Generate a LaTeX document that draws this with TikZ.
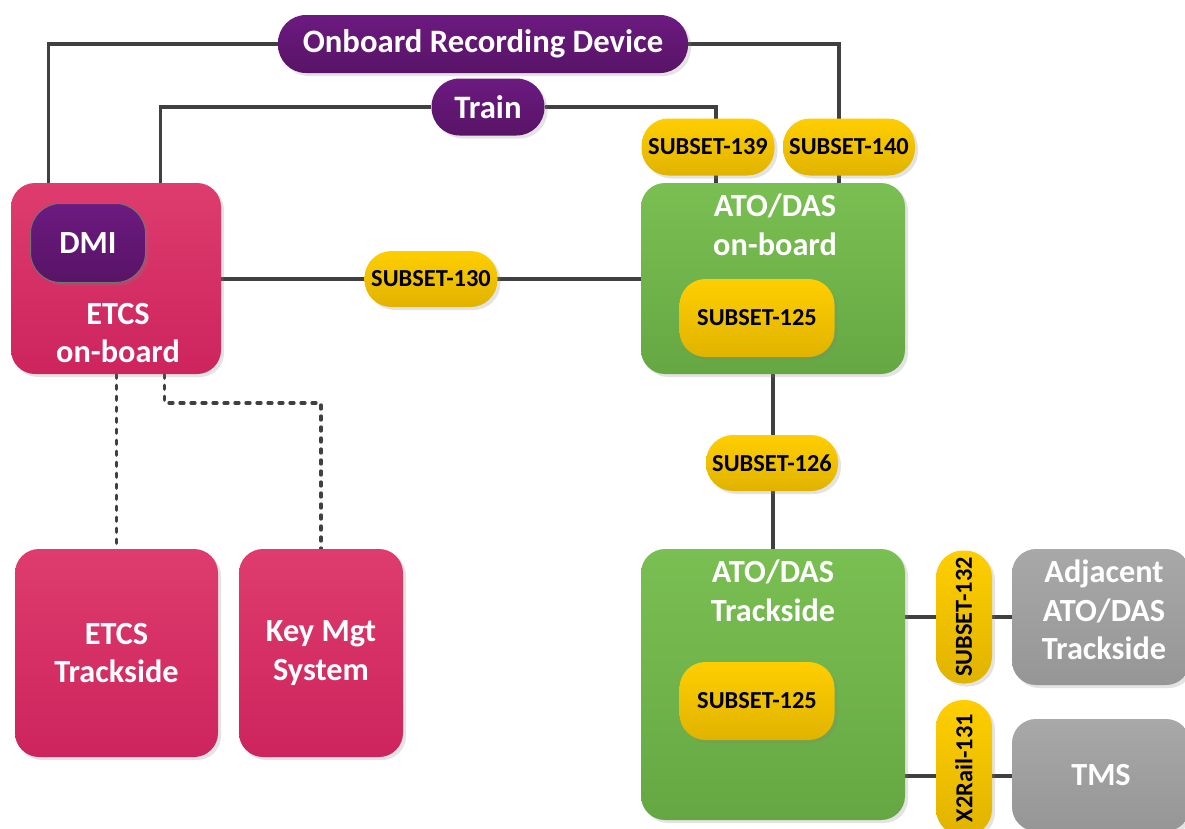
\documentclass[tikz,border=0pt]{standalone}
\usepackage{fontspec}
\setmainfont{Carlito}
\usetikzlibrary{shadows,backgrounds,calc}
\definecolor{purpT}{HTML}{6C1A80}
\definecolor{purpB}{HTML}{581466}
\definecolor{pinkT}{HTML}{DE3C6E}
\definecolor{pinkB}{HTML}{CD245E}
\definecolor{grnT}{HTML}{7ABF52}
\definecolor{grnB}{HTML}{65A843}
\definecolor{ylwT}{HTML}{FFCE00}
\definecolor{ylwB}{HTML}{E0B300}
\definecolor{gryT}{HTML}{A8A8A8}
\definecolor{gryB}{HTML}{969696}
\definecolor{lineC}{HTML}{404040}
\tikzset{
  base/.style={inner sep=0pt, align=center,
    drop shadow={opacity=0.22, shadow xshift=3pt, shadow yshift=-3pt}},
  bigtxt/.style={text=white, font=\bfseries\fontsize{32.3}{38.5}\selectfont},
  smalltxt/.style={text=black, font=\bfseries\fontsize{24.4}{28}\selectfont},
  pinkbox/.style={base, bigtxt, rounded corners=24pt, top color=pinkT, bottom color=pinkB},
  greenbox/.style={base, rounded corners=24pt, top color=grnT, bottom color=grnB},
  graybox/.style={base, bigtxt, rounded corners=24pt, top color=gryT, bottom color=gryB},
  purppill/.style={base, bigtxt, top color=purpT, bottom color=purpB},
  ylwpill/.style={base, smalltxt, rounded corners=27pt, top color=ylwT, bottom color=ylwB},
  inner125/.style={base, smalltxt, rounded corners=26pt, top color=ylwT, bottom color=ylwB,
    minimum width=155pt, minimum height=78pt},
  lbl/.style={bigtxt, align=center, inner sep=0pt},
  conn/.style={draw=lineC, line width=3.3pt},
  dconn/.style={draw=lineC, line width=3.3pt, line cap=round, dash pattern=on 4pt off 7pt},
}
\begin{document}
\begin{tikzpicture}[x=1pt,y=-1pt]
\useasboundingbox (0,0) rectangle (1185,828);
\begin{pgfonlayer}{background}
\fill[white] (0,0) rectangle (1185,828);
\end{pgfonlayer}

% purple pills
\node[purppill, rounded corners=28pt, minimum width=410pt, minimum height=58pt,
  font=\bfseries\fontsize{32.7}{38}\selectfont] (ord) at (483,44) {Onboard Recording Device};
\node[purppill, rounded corners=28pt, minimum width=113pt, minimum height=57pt,
  font=\bfseries\fontsize{32.7}{38}\selectfont] (train) at (488,107) {Train};

% ETCS on-board
\node[pinkbox, minimum width=210pt, minimum height=191pt] (etcsob) at (116,278.5) {};
\node[base, bigtxt, rounded corners=30pt, top color=purpT, bottom color=purpB,
  draw=black!55, line width=1pt, minimum width=115pt, minimum height=79pt] (dmi) at (88,243) {DMI};
\node[lbl] (etcsobT) at (118,333) {ETCS\\on-board};

% ATO/DAS on-board
\node[greenbox, minimum width=264pt, minimum height=191pt] (atoob) at (773,278.5) {};
\node[lbl] (atoobT) at (775,225) {ATO/DAS\\on-board};
\node[inner125] (s125a) at (757,318) {SUBSET-125};

% subsets top
\node[ylwpill, minimum width=133pt, minimum height=57pt] (s139) at (708,147) {SUBSET-139};
\node[ylwpill, minimum width=132pt, minimum height=57pt] (s140) at (849,147) {SUBSET-140};
\node[ylwpill, minimum width=133pt, minimum height=56pt] (s130) at (431,279) {SUBSET-130};
\node[ylwpill, minimum width=132pt, minimum height=56pt] (s126) at (772,463) {SUBSET-126};

% ATO/DAS trackside
\node[greenbox, minimum width=264pt, minimum height=271pt] (atots) at (773,684.5) {};
\node[lbl] (atotsT) at (773,591) {ATO/DAS\\Trackside};
\node[inner125] (s125b) at (757,701) {SUBSET-125};

% vertical pills
\node[ylwpill, rotate=90, minimum width=133pt, minimum height=56pt] (s132) at (964,617) {SUBSET-132};
\node[ylwpill, rotate=90, minimum width=136pt, minimum height=56pt] (x2r) at (964,768) {X2Rail-131};

% gray boxes
\node[graybox, minimum width=178pt, minimum height=136pt] (adj) at (1101,617) {};
\node[lbl] (adjT) at (1104,610) {Adjacent\\ATO/DAS\\Trackside};
\node[graybox, minimum width=178pt, minimum height=112pt] (tms) at (1101,775) {TMS};

% pink bottom boxes
\node[pinkbox, minimum width=203pt, minimum height=208pt] (etcsts) at (116.5,653) {ETCS\\Trackside};
\node[pinkbox, minimum width=164pt, minimum height=208pt] (kms) at (321,653) {Key Mgt\\System};

\coordinate (x2line) at (964,776);
\coordinate (kbend) at (0,403);

\begin{pgfonlayer}{background}
\draw[conn] (ord.west) -| ([xshift=38pt]etcsob.north west);
\draw[conn] (ord.east) -| ([xshift=-10pt]s140.center |- atoob.north);
\draw[conn] (train.west) -| ([xshift=150pt]etcsob.north west);
\draw[conn] (train.east) -| ([xshift=8pt]s139.center |- atoob.north);
\draw[conn] (etcsob.east |- s130) -- (atoob.west |- s130);
\draw[conn] (atoob.south) -- (atots.north);
\draw[conn] (atots.east |- s132) -- (adj.west |- s132);
\draw[conn] (atots.east |- x2line) -- (tms.west |- x2line);
\draw[dconn] (etcsts.north |- etcsob.south) -- (etcsts.north);
\draw[dconn] ([xshift=154pt]etcsob.south west) |- (kms.north |- kbend) -- (kms.north);
\end{pgfonlayer}
\end{tikzpicture}
\end{document}
